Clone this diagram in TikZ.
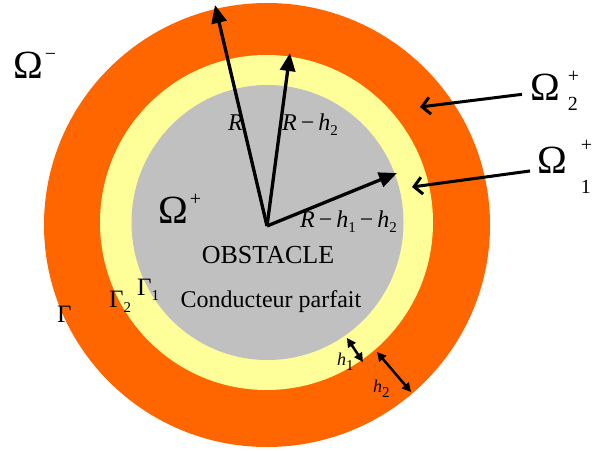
\documentclass[tikz,border=0pt]{standalone}
\usepackage{fontspec}
\setmainfont{Liberation Serif}
\usetikzlibrary{arrows.meta}

\definecolor{outerring}{HTML}{FF6600}
\definecolor{innerring}{HTML}{FFFF99}
\definecolor{obstacle}{HTML}{C0C0C0}

\newcommand{\lowidx}[1]{\raisebox{-5pt}{\fontsize{15}{15}\selectfont #1}}
\newcommand{\highidx}[1]{\raisebox{18pt}{\fontsize{20}{20}\selectfont #1}}

\begin{document}
\begin{tikzpicture}[x=1pt, y=-1pt,
		bigtext/.style={anchor=base west, inner sep=0pt, font=\fontsize{40}{40}\selectfont},
		radtext/.style={anchor=base west, inner sep=0pt, font=\fontsize{24}{24}\selectfont},
		gaptext/.style={anchor=base west, inner sep=0pt, font=\fontsize{18}{18}\selectfont},
		radarrow/.style={line width=3.3pt, -{Triangle[length=18pt, width=15pt]}},
		pointer/.style={line width=3pt, -{Straight Barb[length=8pt, width=17pt]}},
		gaparrow/.style={line width=2.5pt, {Triangle[length=9pt, width=9pt]}-{Triangle[length=9pt, width=9pt]}}
		]
		\useasboundingbox (0,0) rectangle (596,450);
		
		% rings
		\fill [outerring] (267,225) circle [x radius=223, y radius=222];
		\fill [innerring] (266.5,222.5) circle [x radius=166.5, y radius=167.5];
		\fill [obstacle] (267.5,222.5) circle [x radius=136, y radius=137.5];
		
		% domains
		\node [bigtext] (omega minus) at (13,78) {Ω\kern2pt\highidx{−}};
		\node [bigtext] (omega plus) at (158,223) {Ω\kern2pt\highidx{+}};
		\node [bigtext, inner xsep=8pt] (omega two) at (522,100) {Ω\kern8pt\rlap{\highidx{+}}\raisebox{-10pt}{\fontsize{20}{20}\selectfont 2}};
		\node [bigtext, inner xsep=7pt] (omega one) at (530,173) {Ω\kern14pt\rlap{\raisebox{22pt}{\fontsize{20}{20}\selectfont +}}\raisebox{-20pt}{\fontsize{20}{20}\selectfont 1}};
		\node [anchor=base, inner sep=0pt, font=\fontsize{26}{26}\selectfont] (obst) at (268,263) {OBSTACLE};
		\node [anchor=base, inner sep=0pt, font=\fontsize{24}{24}\selectfont] (cond) at (271,307) {Conducteur parfait};
		
		% boundaries
		\node [radtext, font=\fontsize{25}{25}\selectfont] (gamma) at (57,322) {Γ};
		\node [radtext, font=\fontsize{25}{25}\selectfont] (gamma two) at (109,307) {Γ\lowidx{2}};
		\node [radtext, font=\fontsize{25}{25}\selectfont] (gamma one) at (137,295) {Γ\lowidx{1}};
		
		% radii
		\coordinate (centre) at (267,226);
		\coordinate (tip R) at (215,5);
		\coordinate (tip R2) at (290,53);
		\coordinate (tip R12) at (397,173);
		\draw [radarrow] (centre) -- (tip R);
		\draw [radarrow] (centre) -- (tip R2);
		\draw [radarrow] (centre) -- (tip R12);
		\node [radtext] (lab R) at (228,130) {\textit{R}};
		\node [radtext] (lab R2) at (282,130) {\textit{R}\,−\,\textit{h}\lowidx{2}};
		\node [radtext] (lab R12) at (300,227) {\textit{R}\,−\,\textit{h}\lowidx{1}\,−\,\textit{h}\lowidx{2}};
		
		% pointers to the layers
		\coordinate (in two) at (420,107);
		\coordinate (in one) at (412,187);
		\draw [pointer] (omega two) -- (in two);
		\draw [pointer] (omega one) -- (in one);
		
		% thicknesses
		\coordinate (h1 a) at (347,338);
		\coordinate (h1 b) at (363,362);
		\coordinate (h2 a) at (377,352);
		\coordinate (h2 b) at (411,392);
		\draw [gaparrow] (h1 a) -- (h1 b);
		\draw [gaparrow] (h2 a) -- (h2 b);
		\node [gaptext] (lab h1) at (337,365) {\textit{h}\lowidx{1}};
		\node [gaptext] (lab h2) at (373,392) {\textit{h}\lowidx{2}};
	\end{tikzpicture}
\end{document}
